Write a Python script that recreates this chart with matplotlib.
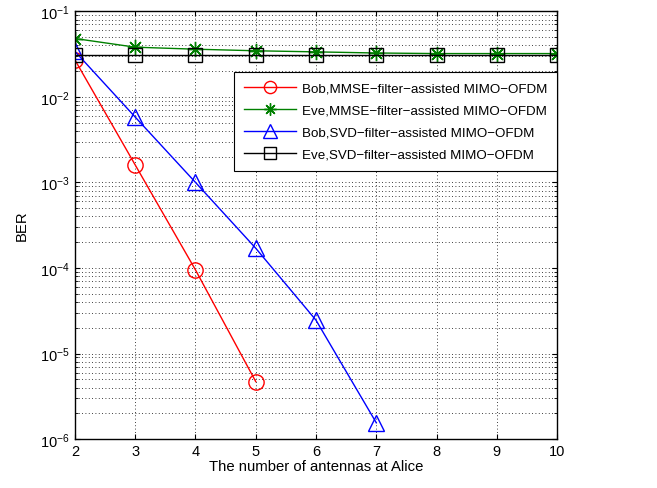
import matplotlib
matplotlib.use("Agg")
import matplotlib.pyplot as plt
import numpy as np

plt.rcParams['font.family'] = ['Liberation Sans', 'DejaVu Sans']

# data #
antennas = [2, 3, 4, 5, 6, 7, 8, 9, 10]
bob_mmse = [2.7e-2, 1.6e-3, 9.5e-5, 4.7e-6]
eve_mmse = [4.8e-2, 3.8e-2, 3.6e-2, 3.45e-2, 3.35e-2, 3.25e-2, 3.2e-2, 3.2e-2, 3.2e-2]
bob_svd = [3.4e-2, 5.8e-3, 1.0e-3, 1.7e-4, 2.45e-5, 1.55e-6]
eve_svd = [3.1e-2] * 9

labels = [
    "Bob,MMSE\u2212filter\u2212assisted MIMO\u2212OFDM",
    "Eve,MMSE\u2212filter\u2212assisted MIMO\u2212OFDM",
    "Bob,SVD\u2212filter\u2212assisted MIMO\u2212OFDM",
    "Eve,SVD\u2212filter\u2212assisted MIMO\u2212OFDM",
]

fig = plt.figure(figsize=(6.57, 4.89), dpi=100)
ax = fig.add_axes([0.114, 0.1, 0.734, 0.875])

ax.semilogy(antennas[:len(bob_mmse)], bob_mmse, color="red", marker="o", ms=11,
            mfc="none", mew=1.0, lw=1.0, label=labels[0])
ax.semilogy(antennas, eve_mmse, color="#008000", marker=(8, 2, 0), ms=11,
            mew=1.0, lw=1.0, label=labels[1])
ax.semilogy(antennas[:len(bob_svd)], bob_svd, color="blue", marker="^", ms=12,
            mfc="none", mew=1.0, lw=1.0, label=labels[2])
ax.semilogy(antennas, eve_svd, color="black", marker="s", ms=10,
            mfc="none", mew=1.0, lw=1.0, label=labels[3])

ax.set_xlim(2, 10)
ax.set_ylim(1e-6, 1e-1)
ax.set_xticks(antennas)
ax.grid(True, which="major", linestyle=(0, (1, 3)), color="black", lw=0.6)
ax.grid(True, which="minor", axis="y", linestyle=(0, (1, 3)), color="black", lw=0.6)
ax.tick_params(which="both", direction="in", top=True, right=True, labelsize=10.5)
for s in ax.spines.values():
    s.set_linewidth(1.0)

ax.set_xlabel("The number of antennas at Alice", fontsize=10.7, labelpad=1)
ax.set_ylabel("BER", fontsize=10.7, labelpad=8)

leg = ax.legend(loc="upper right", bbox_to_anchor=(1.0, 0.857), fontsize=9.6,
                fancybox=False, framealpha=1, edgecolor="black",
                handlelength=3.9, handletextpad=0.45, markerscale=0.8,
                borderaxespad=0, labelspacing=0.72, borderpad=0.75)
leg.get_frame().set_linewidth(0.8)

fig.savefig("out.png", dpi=100)
